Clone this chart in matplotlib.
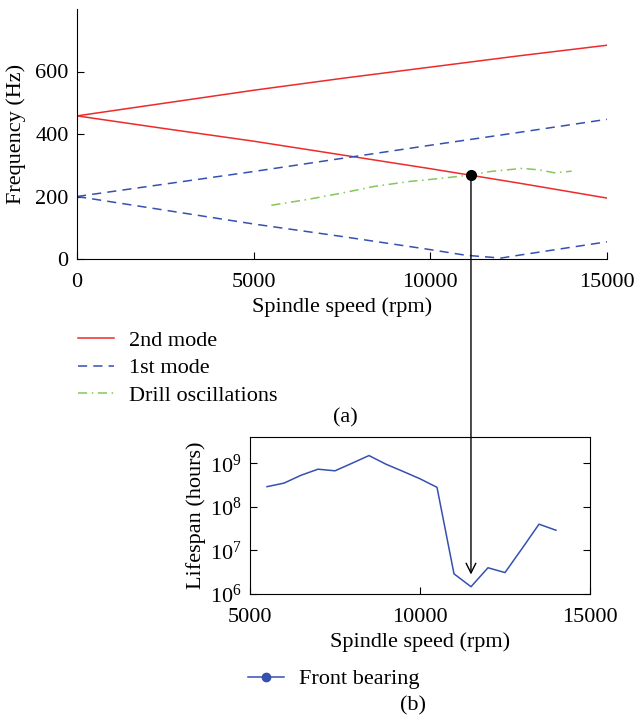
import matplotlib
matplotlib.use("Agg")
import matplotlib.pyplot as plt
from matplotlib.lines import Line2D
from matplotlib.patches import FancyArrowPatch

plt.rcParams['font.family'] = ['Liberation Serif', 'DejaVu Serif']
FS = 16
plt.rcParams['font.size'] = FS

# ---- (a) Campbell diagram data ----
speed = [0, 2500, 5000, 7500, 10000, 12500, 15000]
mode2_up = [458, 499, 540, 578, 614, 650, 684]
mode2_down = [458, 417, 377, 333, 289, 243, 195]
mode1_up = [200, 240, 280, 322, 364, 405, 447]
speed1_low = [0, 2500, 5000, 7500, 10000, 11000, 12000, 12500, 15000]
mode1_down = [200, 156, 112, 72, 30, 12, 3, 12, 55]
drill_speed = [5500, 6500, 7500, 8400, 9400, 10300, 11150, 11700, 12600, 13100, 13500, 14000]
drill_freq = [172, 190, 211, 232, 248, 258, 269, 280, 290, 285, 276, 281]
marked_speed = 11150
marked_freq = 269

# ---- (b) Lifespan data ----
life_speed = [5500, 6000, 6500, 7000, 7500, 8000, 8500, 9000, 9500, 10000, 10500,
              11000, 11500, 12000, 12500, 13000, 13500, 14000]
life_hours = [2.9e8, 3.5e8, 5.3e8, 7.3e8, 6.7e8, 1.0e9, 1.5e9, 9.5e8, 6.5e8, 4.4e8, 2.8e8,
              2.9e6, 1.47e6, 4.0e6, 3.1e6, 1.1e7, 4.0e7, 2.9e7]
arrow_tip_hours = 2.8e6

RED = '#ee2b2b'
BLUE = '#3550b0'
GREEN = '#82c85a'
DASH = (0, (6, 4))
DASHDOT = (0, (6, 3, 1, 3))

W, H = 634, 719
fig = plt.figure(figsize=(W/100, H/100), dpi=100)

# ---- top axes ----
ax1 = fig.add_axes([77/W, 1-259/H, (607-77)/W, (259-9)/H])
ax1.plot(speed, mode2_up, color=RED, lw=1.1)
ax1.plot(speed, mode2_down, color=RED, lw=1.1)
ax1.plot(speed, mode1_up, color=BLUE, lw=1.1, ls=DASH)
ax1.plot(speed1_low, mode1_down, color=BLUE, lw=1.1, ls=DASH)
ax1.plot(drill_speed, drill_freq, color=GREEN, lw=1.1, ls=DASHDOT)
ax1.plot([marked_speed], [marked_freq], 'o', color='black', ms=7, zorder=5)
ax1.set_xlim(0, 15000)
ax1.set_ylim(0, 800)
ax1.set_xticks([0, 5000, 10000, 15000])
ax1.set_yticks([0, 200, 400, 600])
ax1.spines['top'].set_visible(False)
ax1.spines['right'].set_visible(False)
ax1.tick_params(direction='in', length=5, width=0.8, labelsize=FS, pad=6)
ax1.tick_params(axis='x', pad=10)
ax1.set_xlabel('Spindle speed (rpm)', fontsize=FS, labelpad=4)
ax1.set_ylabel('Frequency (Hz)', fontsize=FS, labelpad=7)

h1 = [Line2D([], [], color=RED, lw=1.1),
      Line2D([], [], color=BLUE, lw=1.1, ls=DASH),
      Line2D([], [], color=GREEN, lw=1.1, ls=DASHDOT)]
fig.legend(h1, ['2nd mode', '1st mode', 'Drill oscillations'],
           loc='center left', bbox_to_anchor=(78/W, 1-368/H), frameon=False,
           fontsize=FS, borderpad=0, borderaxespad=0, handlelength=1.6,
           handletextpad=0.7, labelspacing=0.32)
fig.text(345/W, 1-418/H, '(a)', ha='center', va='center', fontsize=FS)

# ---- bottom axes ----
ax2 = fig.add_axes([250/W, 1-594/H, (590-250)/W, (594-437)/H])
ax2.plot(life_speed, life_hours, color=BLUE, lw=1.1)
ax2.set_yscale('log')
ax2.set_xlim(5000, 15000)
ax2.set_ylim(1e6, 4e9)
ax2.set_xticks([5000, 10000, 15000])
ax2.set_yticks([1e6, 1e7, 1e8, 1e9])
ax2.tick_params(which='both', direction='in', right=True, width=0.8, labelsize=FS, pad=6)
ax2.tick_params(axis='x', pad=10)
ax2.tick_params(which='major', length=5)
ax2.tick_params(which='minor', length=2.5)
ax2.set_xlabel('Spindle speed (rpm)', fontsize=FS, labelpad=4)
ax2.set_ylabel('Lifespan (hours)', fontsize=FS, labelpad=3)

h2 = [Line2D([], [], color=BLUE, lw=1.1, marker='o', ms=6)]
fig.legend(h2, ['Front bearing'], loc='center left', bbox_to_anchor=(248/W, 1-679/H),
           frameon=False, fontsize=FS, borderpad=0, borderaxespad=0,
           handlelength=1.6, handletextpad=0.7)
fig.text(413/W, 1-706/H, '(b)', ha='center', va='center', fontsize=FS)

# ---- connecting arrow ----
fig.canvas.draw()
start = ax1.transData.transform((marked_speed, marked_freq))
end_y = ax2.transData.transform((10000, arrow_tip_hours))[1]
inv = fig.transFigure.inverted()
p0 = inv.transform(start)
p1 = inv.transform((start[0], end_y))
arr = FancyArrowPatch(p0, p1, transform=fig.transFigure,
                      arrowstyle='->,head_length=7,head_width=3.5',
                      color='black', lw=1.0, shrinkA=0, shrinkB=0, zorder=10)
fig.add_artist(arr)

fig.savefig('out.png', dpi=100)
